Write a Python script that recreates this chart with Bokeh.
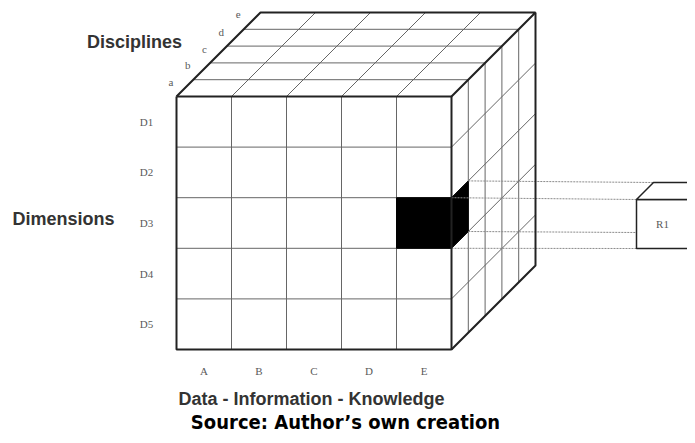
from bokeh.plotting import figure
from bokeh.models import Range1d
from bokeh.core.properties import value
from bokeh.embed import file_html
from bokeh.resources import INLINE

# Diagram content
columns = ["A", "B", "C", "D", "E"]          # Data - Information - Knowledge
rows = ["D1", "D2", "D3", "D4", "D5"]         # Dimensions
layers = ["a", "b", "c", "d", "e"]            # Disciplines
highlight_col = "E"
highlight_row = "D3"
result_label = "R1"

# geometry (pixel-like coordinates, y downwards)
X0, X1 = 176.0, 451.0
Y0, Y1 = 96.0, 349.0
DEPTH = 84.0
nc, nr, nl = len(columns), len(rows), len(layers)
cw = (X1 - X0) / nc
rh = (Y1 - Y0) / nr
ld = DEPTH / nl

W, H = 687, 435
p = figure(width=W, height=H, x_range=Range1d(0, W), y_range=Range1d(H, 0),
           x_axis_type=None, y_axis_type=None, output_backend="svg",
           toolbar_location=None, min_border=0)
p.xgrid.visible = False
p.ygrid.visible = False
p.outline_line_color = None
p.background_fill_color = "white"
p.border_fill_color = "white"

thin = "#666666"
dark = "#222222"

# front face inner grid
xs, ys = [], []
for i in range(1, nc):
    x = X0 + i * cw
    xs.append([x, x]); ys.append([Y0, Y1])
for j in range(1, nr):
    y = Y0 + j * rh
    xs.append([X0, X1]); ys.append([y, y])
p.multi_line(xs, ys, line_color=thin, line_width=1)

# top face grid
xs, ys = [], []
for i in range(1, nc):
    x = X0 + i * cw
    xs.append([x, x + DEPTH]); ys.append([Y0, Y0 - DEPTH])
for k in range(1, nl):
    d = k * ld
    xs.append([X0 + d, X1 + d]); ys.append([Y0 - d, Y0 - d])
p.multi_line(xs, ys, line_color=thin, line_width=1)

# right face grid
xs, ys = [], []
for j in range(1, nr):
    y = Y0 + j * rh
    xs.append([X1, X1 + DEPTH]); ys.append([y, y - DEPTH])
for k in range(1, nl):
    d = k * ld
    xs.append([X1 + d, X1 + d]); ys.append([Y0 - d, Y1 - d])
p.multi_line(xs, ys, line_color=thin, line_width=1)

# highlighted cell
ci = columns.index(highlight_col)
ri = rows.index(highlight_row)
cx0, cx1 = X0 + ci * cw, X0 + (ci + 1) * cw
cy0, cy1 = Y0 + ri * rh, Y0 + (ri + 1) * rh
p.patch([cx0, cx1, cx1, cx0], [cy0, cy0, cy1, cy1], fill_color="black", line_color="black")
p.patch([X1, X1 + ld, X1 + ld, X1], [cy0, cy0 - ld, cy1 - ld, cy1],
        fill_color="black", line_color="black")

# R1 cube
RX0, RX1, RY0, RY1, RD = 636.0, 688.0, 199.0, 248.0, 17.0
# dotted connectors
p.multi_line([[X1 + ld, RX0 + RD], [X1, RX0], [X1 + ld, RX0], [X1, RX0]],
             [[cy0 - ld, RY0 - RD], [cy0, RY0], [cy1 - ld, RY1 - RD + 1], [cy1, RY1]],
             line_color="#8a8a8a", line_width=1, line_dash="2 1")
p.patch([RX0, RX1, RX1, RX0], [RY0, RY0, RY1, RY1], fill_color="white",
        line_color=dark, line_width=1.5)
p.patch([RX0, RX0 + RD, RX1 + RD, RX1], [RY0, RY0 - RD, RY0 - RD, RY0], fill_color="white",
        line_color=dark, line_width=1.5)
p.patch([RX1, RX1 + RD, RX1 + RD, RX1], [RY0, RY0 - RD, RY1 - RD, RY1], fill_color="white",
        line_color=dark, line_width=1.5)

# main cube outline
p.multi_line(
    [[X0, X1, X1, X0, X0],
     [X0, X0 + DEPTH, X1 + DEPTH, X1],
     [X1 + DEPTH, X1 + DEPTH, X1]],
    [[Y0, Y0, Y1, Y1, Y0],
     [Y0, Y0 - DEPTH, Y0 - DEPTH, Y0],
     [Y0 - DEPTH, Y1 - DEPTH, Y1]],
    line_color=dark, line_width=2)

serif = value("Liberation Serif")
lab_col = "#5a5a5a"
# column labels
p.text([X0 + (i + 0.5) * cw for i in range(nc)], [370] * nc, text=columns,
       text_font=serif, text_font_size="11px", text_color=lab_col,
       text_align="center", text_baseline="middle")
# row labels
p.text([146] * nr, [Y0 + (j + 0.5) * rh for j in range(nr)], text=rows,
       text_font=serif, text_font_size="11px", text_color=lab_col,
       text_align="center", text_baseline="middle")
# layer labels
p.text([X0 + (k + 0.5) * ld - 14 for k in range(nl)],
       [Y0 - (k + 0.5) * ld - 6 for k in range(nl)], text=layers,
       text_font=serif, text_font_size="11px", text_color=lab_col,
       text_align="center", text_baseline="middle")
p.text([(RX0 + RX1) / 2], [(RY0 + RY1) / 2], text=[result_label],
       text_font=serif, text_font_size="11px", text_color=lab_col,
       text_align="center", text_baseline="middle")

sans = value("Liberation Sans")
p.text([134], [41], text=["Disciplines"], text_font=sans, text_font_style="bold",
       text_font_size="18px", text_color="#333333", text_align="center", text_baseline="middle")
p.text([63], [218], text=["Dimensions"], text_font=sans, text_font_style="bold",
       text_font_size="18px", text_color="#333333", text_align="center", text_baseline="middle")
p.text([311], [398], text=["Data - Information - Knowledge"], text_font=sans,
       text_font_style="bold", text_font_size="18px", text_color="#333333",
       text_align="center", text_baseline="middle")
p.text([345], [421], text=["Source: Author’s own creation"],
       text_font=value("'Liberation Sans Narrow', 'DejaVu Sans Condensed', sans-serif"),
       text_font_style="bold", text_font_size="20px", text_color="black",
       text_align="center", text_baseline="middle")

open("out.html", "w").write(file_html(p, INLINE))
